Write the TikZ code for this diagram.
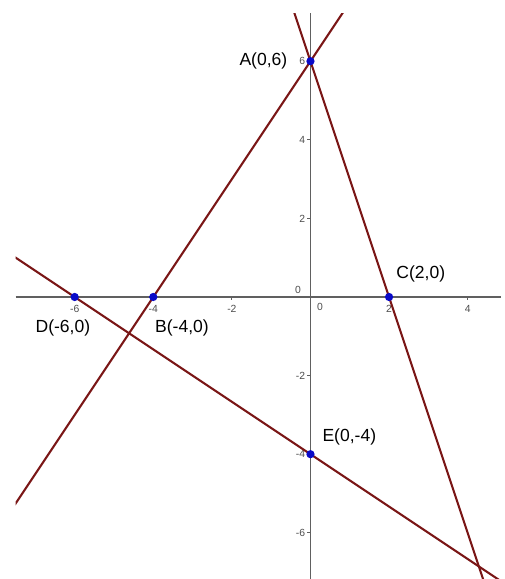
\documentclass[tikz,border=0pt]{standalone}
\usepackage{fontspec}
\setmainfont{Liberation Sans}
\usetikzlibrary{positioning,calc,backgrounds}

\definecolor{lineRed}{RGB}{122,22,22}
\definecolor{axisGray}{RGB}{96,96,96}
\definecolor{pointBlue}{RGB}{10,10,200}

\begin{document}
\begin{tikzpicture}[
    font=\fontsize{12.7}{14}\selectfont,
    axis/.style={draw=axisGray, line width=1.1pt},
    tickmark/.style={draw=axisGray, line width=0.6pt},
    graphline/.style={draw=lineRed, line width=1.5pt},
    pt/.style={circle, fill=pointBlue, inner sep=0pt, minimum size=0.21cm},
    ptlabel/.style={inner sep=0pt, text=black},
    ticklabel/.style={font=\fontsize{7.5}{8}\selectfont, text=axisGray!80!black, inner sep=0pt}
]
\useasboundingbox (-7.90,-7.176) rectangle (4.95,7.557);

% Points
\node[pt] (A) at (0,6) {};
\node[pt] (B) at (-4,0) {};
\node[pt] (C) at (2,0) {};
\node[pt] (D) at (-6,0) {};
\node[pt] (E) at (0,-4) {};

% Point labels
\node[ptlabel, left=0.47cm of A] (labA) {A(0,6)};
\node[ptlabel, below=0.45cm of B, xshift=0.73cm] (labB) {B(-4,0)};
\node[ptlabel, above right=0.3cm and 0.1cm of C] (labC) {C(2,0)};
\node[ptlabel, below=0.45cm of D, xshift=-0.3cm] (labD) {D(-6,0)};
\node[ptlabel, above right=0.14cm and 0.22cm of E] (labE) {E(0,-4)};

% Axes and lines
\begin{scope}[on background layer]
    \coordinate (xmin) at (-7.5,0);
    \coordinate (xmax) at (4.86,0);
    \coordinate (ymin) at (0,-7.176);
    \coordinate (ymax) at (0,7.23);
    \draw[axis] (xmin) -- (xmax);
    \draw[axis] (ymin) -- (ymax);
    \foreach \x in {-6,-4,-2,2,4} {
        \draw[tickmark] (\x,0) -- (\x,-0.08);
        \node[ticklabel] (tx\x) at (\x,-0.31) {\x};
    }
    \foreach \y in {-6,-4,-2,2,4,6} {
        \draw[tickmark] (0,\y) -- (-0.08,\y);
        \node[ticklabel, anchor=east] (ty\y) at (-0.13,\y) {\y};
    }
    \node[ticklabel] (tx0) at (0.24,-0.26) {0};
    \node[ticklabel] (ty0) at (-0.32,0.19) {0};

    \clip (-7.5,-7.176) rectangle (4.86,7.22);
    \draw[graphline] ($(A)!-5!(B)$) -- ($(B)!-5!(A)$);
    \draw[graphline] ($(A)!-5!(C)$) -- ($(C)!-5!(A)$);
    \draw[graphline] ($(D)!-5!(E)$) -- ($(E)!-5!(D)$);
\end{scope}

\end{tikzpicture}
\end{document}
